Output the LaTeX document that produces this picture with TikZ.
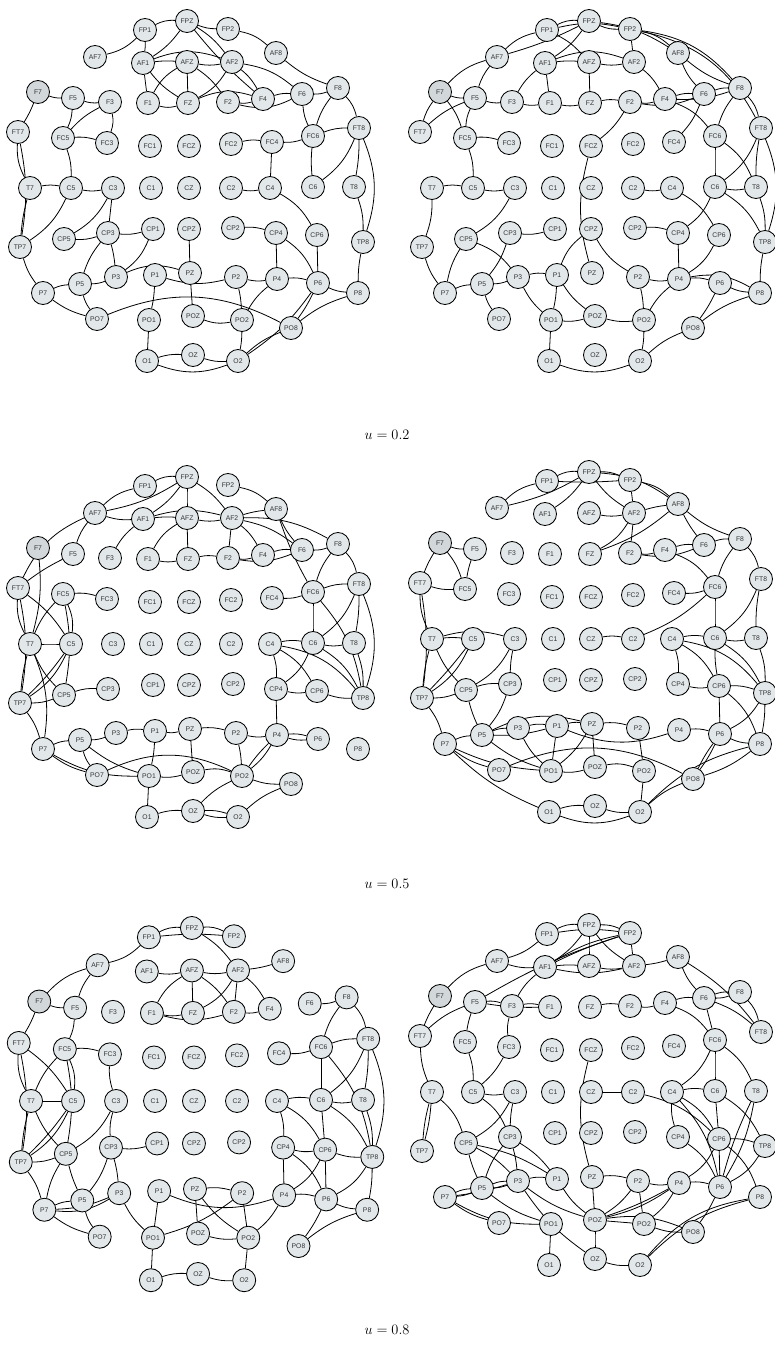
\documentclass[tikz,border=0pt]{standalone}
\usepackage{fontspec}
\newfontfamily\lab{Liberation Sans}
\pgfdeclarelayer{back}
\pgfdeclarelayer{bg}
\pgfsetlayers{back,bg,main}
\definecolor{nf}{HTML}{E2E8EA}
\definecolor{nfd}{HTML}{D2D8DA}
\definecolor{txt}{HTML}{333333}
\def\layout{FP1/145/30,FPZ/187/21,FP2/228/29,AF7/95/57,AF1/143/63,AFZ/187/62,AF2/232/62,AF8/276/53,F5/73/98,F3/110/102,F1/148/103,FZ/188/103,F2/228/102,F4/263/99,F6/302/94,F8/338/88,FT7/18/132,FC5/63/138,FC3/107/143,FC1/150/146,FCZ/189/146,FC2/231/144,FC4/272/142,FC6/313/136,FT8/359/128,T7/30/188,C5/71/188,C3/113/188,C1/151/188,CZ/189/188,C2/231/188,C4/270/188,C6/313/187,T8/354/187,TP7/20/247,CP5/64/239,CP3/108/233,CP1/153/229,CPZ/189/229,CP2/233/228,CP4/276/233,CP6/317/235,TP8/363/242,P7/43/293,P5/80/284,P3/116/277,P1/155/275,PZ/190/273,P2/236/277,P4/277/279,P6/318/283,P8/358/293,PO7/97/319,PO1/149/320,POZ/193/316,PO2/242/320,PO8/291/328,O1/147/361,OZ/193/355,O2/238/361}
\newcommand\mkpanel[1]{\foreach \nn/\xx/\yy in \layout {\node[el] (#1\nn) at (\xx,\yy) {\nn};}\node[el,fill=nfd] (#1F7) at (38,92) {F7};}
\newcommand\mkedges[2]{\begin{pgfonlayer}{bg}\foreach \ua/\ub/\ug in {#2}{\draw[ed] (#1\ua) to[bend left=\ug] (#1\ub);}\end{pgfonlayer}}
\begin{document}
\begin{tikzpicture}[x=1pt,y=-1pt,
  el/.style={circle,draw=black,line width=0.85pt,fill=nf,minimum size=23pt,inner sep=0pt,font=\lab\fontsize{6.8}{7}\selectfont,text=txt},
  ed/.style={line width=0.8pt,black},
  ulab/.style={font=\fontsize{14}{16}\selectfont}]
\begin{pgfonlayer}{back}\fill[white] (0,0) rectangle (775,1355);\end{pgfonlayer}
\useasboundingbox (0,0) rectangle (775,1355);
\clip (0,0) rectangle (775,1355);
\begin{scope}\mkpanel{a}\end{scope}
\begin{scope}[shift={(402,0)}]\mkpanel{b}\end{scope}
\begin{scope}[shift={(0,456)}]\mkpanel{c}\end{scope}
\begin{scope}[shift={(402,451)}]\mkpanel{d}\end{scope}
\begin{scope}[shift={(0.3,906.2)},xscale=1.0247,yscale=1.036]\mkpanel{e}\end{scope}
\begin{scope}[shift={(402,904)}]\mkpanel{f}\end{scope}
\node[ulab] (lab1) at (387,435) {$u = 0.2$};
\node[ulab] (lab2) at (387,884) {$u = 0.5$};
\node[ulab] (lab3) at (387,1330) {$u = 0.8$};
% ---------- TL
\mkedges{a}{FP1/FPZ/15, FPZ/FP2/-10, FP2/AF8/15, AF7/FP1/-15, FP1/AF1/5, FPZ/AF1/10, FPZ/AF2/10, FPZ/F4/-5, AF1/AFZ/5, AF1/AF2/20, AFZ/AF2/-10, AF1/FZ/-10, AF1/F1/0, AFZ/F1/-15, AFZ/FZ/0, AFZ/F2/10, AF2/FZ/15, AF2/F4/10, AF2/F6/15, AF8/F8/-10, F1/FZ/-15, FZ/F4/20, F2/F4/-10, F2/F6/-20, F4/F6/10, F6/F8/-10, F7/F5/-10, F7/FT7/5, F5/F3/-10, F5/FC5/10, F3/FC5/-10, F3/FC3/15, FC5/FC3/10, FT7/T7/-15, FT7/TP7/10, T7/TP7/-5, T7/C5/10, C5/C3/-10, FC5/C5/10, C5/TP7/15, C3/CP5/15, C3/CP3/0, CP5/CP3/-10, CP3/CP1/-10, CP3/P5/-10, CP3/P3/5, CP1/P3/15, P3/PZ/20, P5/P3/-10, P7/P5/10, TP7/P7/-10, CPZ/PZ/0, P1/P2/-15, P2/P4/-10, P4/P6/10, P6/P8/-10, CP2/CP4/10, CP4/P4/0, CP4/P6/15, C4/CP6/15, CP6/P6/0, C2/C4/-10, FC2/FC4/10, FC4/C4/0, FC4/FC6/-10, F6/FC6/-10, F8/FC6/-10, FC6/FT8/10, FC6/C6/-5, FT8/C6/15, FT8/T8/5, F8/FT8/15, FT8/TP8/20, T8/TP8/10, TP8/P8/-5, P7/PO7/-10, P5/PO7/-10, P1/PO1/5, PZ/POZ/0, P2/PO2/5, P4/PO2/-10, P6/PO8/5, P6/O2/10, P8/PO8/-10, PO7/PO8/25, POZ/PO2/-15, O1/OZ/10, OZ/O2/-10, O1/O2/-20, PO2/O2/5, PO8/O2/-10, PO1/O1/0}
% ---------- TR
\mkedges{b}{F7/AF7/15, AF7/FP1/15, AF7/FPZ/-5, FP1/FPZ/15, FP1/FP2/12, FPZ/FP2/-12, FP2/AF8/15, FPZ/AF8/12, FP2/F8/20, FP2/FT8/25, AF8/F6/-10, AF8/F8/-10, FP1/AFZ/10, FPZ/AF1/10, FP2/AF2/0, AF1/AFZ/5, AF1/AF2/20, AFZ/AF2/-10, AF1/F1/0, AF1/F3/-10, AFZ/FZ/0, AF2/F4/10, AF7/F5/-10, F7/F5/-10, F7/FT7/-10, F5/FT7/-10, F7/FC5/10, F5/FC5/-10, F5/F3/-10, F3/F1/-10, F1/FZ/-10, FZ/F2/10, F2/F4/-10, F2/F6/-15, F4/F6/10, F6/F8/10, F4/F8/-10, F8/FT8/15, F4/FC6/15, F6/FC4/10, F8/FC6/-10, FT8/C6/15, FT8/T8/-5, FC6/C6/0, FC6/T8/15, FT8/TP8/20, FC5/FC3/10, FC5/C5/10, FCZ/F2/-10, FCZ/PZ/-15, T7/C5/10, C5/C3/-10, T7/TP7/10, C3/CP5/15, CP5/P7/-10, TP7/P7/-10, CP5/P3/15, CP3/CP1/-10, CP3/P5/10, P7/P5/10, P5/P3/-10, P3/P1/10, CPZ/P1/-15, CPZ/P2/-15, C2/C4/-10, C4/CP6/15, C6/CP4/15, C6/T8/-10, C6/TP8/15, T8/TP8/10, CP2/CP4/10, CP4/P4/0, CP6/P4/15, P2/P4/-10, P4/P6/10, P4/P8/20, P6/P8/-10, TP8/P8/-5, P5/PO7/-10, P3/PO1/-10, P1/PO1/5, P1/POZ/-10, P2/PO2/5, P4/PO2/-10, P6/PO8/5, P8/PO8/-10, PO1/POZ/-10, POZ/PO2/-10, PO1/O1/0, O1/O2/-20, PO2/O2/5, PO8/O2/-10}
% ---------- ML
\mkedges{c}{AF7/FP1/15, AF7/FPZ/-10, FP1/FPZ/15, AF7/FT7/-20, F7/T7/10, AF7/F5/-10, AF7/AF1/-10, AF1/F3/-10, FPZ/AF1/10, FPZ/AFZ/0, FPZ/AF2/10, FP2/AF8/15, AF1/AFZ/5, AF1/AF2/15, AF2/AF8/5, AFZ/AF2/-10, AFZ/F1/-15, AFZ/FZ/0, AF2/F2/0, AF2/F4/10, AF2/F6/12, AF2/F8/15, AF8/F6/-8, AF8/FC6/-5, F1/FZ/-10, FZ/F2/10, F2/F4/-10, F2/F6/-15, F4/F6/10, F6/F8/-10, F8/FC6/-10, F8/FT8/15, FC6/FT8/10, FC4/FC6/-10, FC6/C6/0, FC6/TP8/15, FT8/T8/5, FT8/C6/15, FT8/TP8/20, C6/T8/-10, C6/TP8/15, T8/TP8/10, C4/C6/10, C4/CP4/10, C4/CP6/15, C6/CP4/15, C4/TP8/20, CP4/CP6/-10, CP6/TP8/-10, CP4/P4/0, FT7/F5/5, FT7/T7/-15, FT7/TP7/10, FT7/C5/10, FC5/FC3/10, FC5/T7/-10, FC5/C5/15, FC5/CP5/10, T7/C5/0, T7/TP7/-5, T7/CP5/-10, T7/P7/15, C5/TP7/15, C5/TP7/5, TP7/CP5/-10, CP5/CP3/10, TP7/P7/10, P7/P5/10, P5/P3/-10, P3/P1/10, P1/PZ/-10, PZ/P2/10, P2/P4/-10, P4/P6/10, P4/P6/-10, P7/PO7/-10, P7/PO1/-15, P5/PO7/-10, P5/PO1/-10, P1/PO1/5, PZ/POZ/0, P2/PO2/5, P4/PO2/10, P4/PO2/-5, PO7/PO2/25, PO1/POZ/-10, POZ/PO2/15, PO2/PO8/-10, O1/OZ/10, OZ/O2/-10, OZ/O2/10, PO8/O2/-10, PO1/O1/0, PO2/OZ/-10}
% ---------- MR
\mkedges{d}{AF7/FP1/15, AF7/FPZ/-8, FP1/FPZ/15, FPZ/AF1/10, FPZ/FP2/12, FP1/FP2/-3, FPZ/AF2/-10, FPZ/AF8/15, FP2/AF2/0, FP2/AF8/15, AF2/AF8/5, AFZ/AF2/-10, AF2/FZ/15, AF8/FZ/10, AF2/F2/0, AF8/F6/-5, AF8/F8/-10, F7/F5/-10, F7/FT7/-5, F7/FC5/10, F5/FC5/-5, FT7/FC5/-10, F2/F4/-10, F2/F6/-15, F4/F6/10, F6/F8/10, F4/FC6/15, F8/FC6/-10, F8/FT8/15, FT8/C6/15, FT8/T8/-5, FC4/FC6/-10, FC6/C2/10, FC6/C6/0, CZ/C2/10, C4/C6/10, C4/CP4/10, C4/CP6/15, C6/CP6/-5, C4/TP8/20, C6/TP8/15, C6/T8/-10, T8/TP8/10, CP4/CP6/-10, CP6/TP8/10, CP6/P6/0, CP6/P8/15, TP8/P6/15, P1/P4/-20, PZ/P2/10, P4/P6/10, P6/P8/-10, P5/P3/10, P5/P1/-8, P3/P1/10, P5/PZ/20, P1/PZ/10, T7/C5/5, T7/C3/15, FT7/T7/-12, FT7/TP7/8, T7/TP7/-5, T7/CP5/-10, C5/TP7/15, C5/TP7/3, C3/CP5/15, C3/CP3/-5, CP5/CP3/10, TP7/CP5/-10, TP7/P7/10, CP5/P5/-5, CP3/P5/10, P7/P5/10, P7/PO7/-10, P7/PO1/-10, P7/O1/-10, P5/PO1/-10, P3/PO1/-10, P1/PO1/0, PZ/POZ/0, PZ/PO1/10, P2/PO2/0, P6/PO8/5, P6/PO8/-5, P8/PO8/10, P8/O2/-15, TP8/P8/5, PO7/PO8/25, PO1/POZ/-10, POZ/PO2/15, O1/OZ/10, OZ/O2/-10, O1/O2/-20, PO2/O2/0, PO8/O2/-10}
% ---------- BL
\mkedges{e}{FP1/FPZ/15, FP1/FP2/5, FPZ/FP2/15, FPZ/AF2/10, AF2/AF8/-5, AF7/FP1/-15, AF7/F7/-15, F7/F5/-10, AF7/F5/-10, AF1/AFZ/-10, AFZ/AF2/-10, AFZ/F1/-15, AFZ/FZ/0, AFZ/F2/10, AF2/FZ/15, AF2/F2/0, AF2/F4/10, F1/FZ/-10, F1/F2/-15, F2/F4/-10, F6/F8/-10, F8/FC6/-10, F8/FT8/15, FC6/FT8/10, FC4/FC6/-10, FC6/C6/0, FC6/TP8/15, FT8/T8/5, FT8/C6/15, FT8/TP8/20, C6/T8/-10, C4/C6/10, C4/CP4/10, C4/CP6/15, C6/CP6/0, C6/TP8/15, T8/TP8/10, CP4/CP6/-10, CP6/TP8/-10, F7/FT7/5, F5/FC5/10, FC5/FC3/10, FC3/C3/-10, FT7/T7/-15, FT7/TP7/10, FT7/C5/10, FC5/T7/-10, FC5/C5/15, FC5/CP5/10, T7/C5/0, T7/TP7/-5, T7/CP5/-10, C5/TP7/15, C5/TP7/5, TP7/CP5/-10, C3/CP5/15, C3/CP3/-10, CP3/CP1/-10, CP5/P7/-10, CP5/P5/-5, CP3/P5/10, CP3/P3/5, TP7/P7/10, P7/P5/10, P7/P3/-10, P7/P3/-18, P1/P4/-20, PZ/P2/10, CP4/P4/0, CP4/P6/15, CP6/P4/15, CP6/P6/0, TP8/P6/15, TP8/P8/5, P4/P6/10, P6/P8/-10, P7/PO7/-10, P5/PO7/-10, P3/PO1/-10, P1/PO1/0, PZ/POZ/0, P2/PO1/10, PZ/PO2/-10, P2/PO2/0, P4/PO2/10, P6/PO8/5, P8/PO8/-10, PO1/O1/0, O1/OZ/10, OZ/O2/-10, POZ/PO2/-10, PO2/O2/0}
% ---------- BR
\mkedges{f}{FP1/FPZ/15, FP1/FP2/8, FPZ/FP2/12, AF7/FP1/-12, F7/AF7/15, AF7/AF1/-10, FPZ/AF1/10, FPZ/AFZ/0, FPZ/AF2/-10, FP2/AF2/0, FP2/AF1/-10, FP2/AF1/-4, FP2/F5/-6, AF1/F3/-10, AF1/AFZ/5, AF1/AF2/-12, AFZ/AF2/-10, AF2/AF8/-5, AF8/F6/-10, AF8/FT8/10, F6/F8/10, F6/F8/-10, F6/FT8/10, F8/FT8/15, F4/F6/10, F2/F4/-10, FZ/F2/10, F4/FC6/15, F6/FC6/0, FC6/C4/15, FC6/C6/0, FC6/T8/15, F5/F3/10, F5/F1/-5, F3/F1/10, F3/FC3/-10, F5/FT7/-10, F5/FC5/-5, F7/FT7/-5, FT7/T7/-10, FC5/C5/10, FC3/C5/10, T7/TP7/-5, T7/TP7/5, T7/CP5/15, C5/C3/-10, C5/CP3/15, C3/CP5/15, C3/CP3/-5, CZ/C2/0, C2/CP6/15, C4/C6/10, C4/CP4/-10, C4/CP6/15, C4/P6/15, C6/CP6/0, C6/TP8/15, T8/P6/10, T8/P6/-5, CP4/P6/15, CP6/P4/15, CP6/P6/0, CP6/TP8/10, CP6/P8/15, TP8/P6/15, FCZ/PZ/-15, PZ/P2/10, P2/P4/-10, P4/P6/10, CP5/P5/-5, CP5/P3/10, CP5/P1/10, CP3/P5/-10, CP3/P3/5, CP3/P1/10, P7/P5/10, P7/P5/-10, P7/P3/-5, P5/P3/10, P5/P3/-10, P3/P1/10, P7/PO7/-10, P7/PO1/-15, P5/PO1/-10, P3/POZ/-10, P3/OZ/-10, P1/POZ/-10, PZ/POZ/0, P2/POZ/10, P2/PO2/0, P4/POZ/10, P4/POZ/5, P4/PO2/10, P6/PO8/5, P8/O2/-15, P8/O2/-20, POZ/PO2/0, POZ/PO8/15, POZ/OZ/0, PO1/O1/0, OZ/O2/-10, PO2/PO8/-10}
\end{tikzpicture}
\end{document}
